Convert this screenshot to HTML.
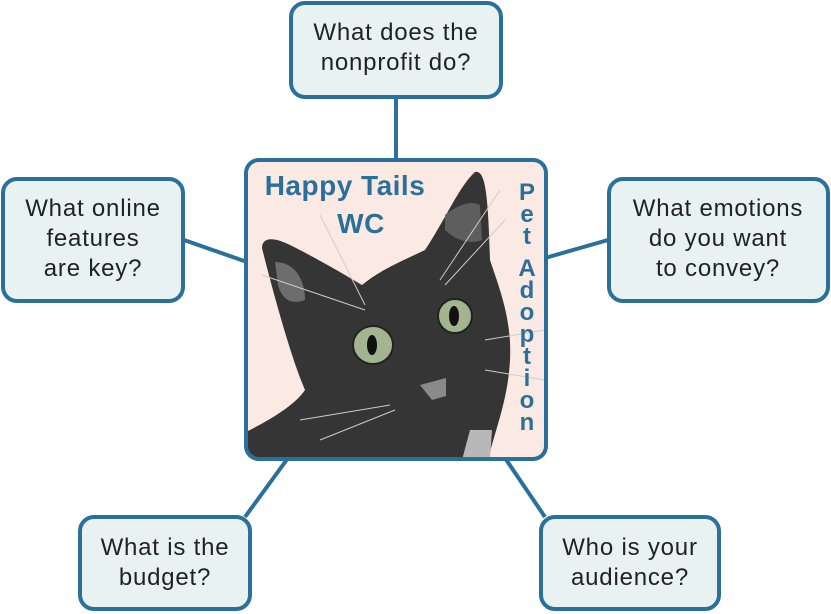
<!DOCTYPE html>
<html><head><meta charset="utf-8"><style>html,body{margin:0;padding:0;background:#fff}svg{display:block}</style></head>
<body>
<svg width="831" height="614" viewBox="0 0 831 614" xmlns="http://www.w3.org/2000/svg" font-family="Liberation Sans, DejaVu Sans, sans-serif">
<g stroke="#2a709a" stroke-width="4">
<line x1="396" y1="98" x2="396" y2="160"/>
<line x1="184" y1="240" x2="247" y2="262"/>
<line x1="545" y1="258" x2="608" y2="240"/>
<line x1="288" y1="458" x2="245" y2="517"/>
<line x1="505" y1="458" x2="545" y2="517"/>
</g>
<g fill="#e8f3f1" stroke="#2a709a" stroke-width="4">
<rect x="291" y="3" width="210" height="94" rx="14"/>
<rect x="3" y="179" width="180" height="122" rx="14"/>
<rect x="609" y="179" width="219" height="122" rx="14"/>
<rect x="80" y="517" width="170" height="92" rx="14"/>
<rect x="541" y="517" width="178" height="92" rx="14"/>
</g>
<rect x="246" y="160" width="300" height="299" rx="13" fill="#fbe9e3"/>
<clipPath id="c"><rect x="246" y="160" width="300" height="299" rx="13"/></clipPath>
<g clip-path="url(#c)">
<path d="M246 432 C270 420 295 405 305 390 C292 360 275 300 262 248 C262 238 272 236 290 245 C320 260 345 275 362 285 C380 270 400 262 425 250 C445 220 460 185 475 172 C485 170 488 190 490 260 C500 290 512 320 510 360 C508 400 495 430 488 460 L246 460 Z" fill="#353535"/>
<path d="M275 262 C295 262 305 280 305 300 C292 305 282 300 278 285 Z" fill="#6d6d6d"/>
<path d="M445 215 C458 205 470 200 480 205 L482 240 C470 245 455 240 445 230 Z" fill="#5e5e5e"/>
<path d="M470 430 L492 430 L490 460 L462 460 Z" fill="#b8b8b8"/>
<ellipse cx="373" cy="345" rx="20" ry="19" fill="#a3b48f" stroke="#222" stroke-width="2"/>
<ellipse cx="372" cy="345" rx="5" ry="10" fill="#111"/>
<ellipse cx="455" cy="316" rx="17" ry="17" fill="#a3b48f" stroke="#222" stroke-width="2"/>
<ellipse cx="454" cy="316" rx="5" ry="10" fill="#111"/>
<path d="M420 385 L446 378 L446 396 L432 400 Z" fill="#8a8a8a"/>
<g stroke="#ccc" stroke-width="1" fill="none">
<path d="M320 215 L365 305"/><path d="M262 275 L365 310"/><path d="M300 420 L390 405"/><path d="M320 440 L395 410"/>
<path d="M485 340 L545 330"/><path d="M485 370 L545 380"/><path d="M440 280 L500 190"/><path d="M445 285 L505 220"/>
</g>
</g>
<rect x="246" y="160" width="300" height="299" rx="13" fill="none" stroke="#2a709a" stroke-width="4"/>
<g fill="#2a709a" font-weight="bold" font-size="28" text-anchor="middle" letter-spacing="0.5">
<text x="345" y="195">Happy Tails</text>
<text x="361" y="233">WC</text>
</g>
<g fill="#2a709a" font-weight="bold" font-size="24" text-anchor="middle">
<text x="527" y="200">P</text><text x="527" y="222">e</text><text x="527" y="244">t</text>
<text x="527" y="276">A</text><text x="527" y="298">d</text><text x="527" y="320">o</text><text x="527" y="342">p</text><text x="527" y="364">t</text><text x="527" y="386">i</text><text x="527" y="408">o</text><text x="527" y="430">n</text>
</g>
<g fill="#222" font-size="24" text-anchor="middle" letter-spacing="0.8">
<text x="396" y="40">What does the</text><text x="396" y="70">nonprofit do?</text>
<text x="93" y="216">What online</text><text x="93" y="246">features</text><text x="93" y="276">are key?</text>
<text x="718" y="216">What emotions</text><text x="718" y="246">do you want</text><text x="718" y="276">to convey?</text>
<text x="165" y="555">What is the</text><text x="165" y="585">budget?</text>
<text x="630" y="555">Who is your</text><text x="630" y="585">audience?</text>
</g>
</svg>
</body></html>
